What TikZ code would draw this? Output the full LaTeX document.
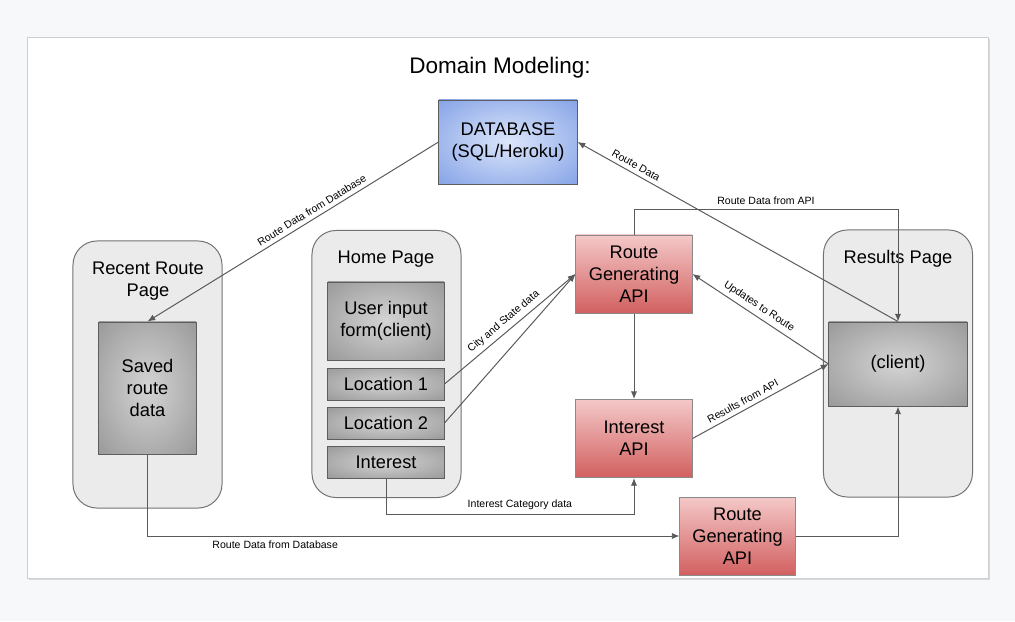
\documentclass[tikz,border=0pt]{standalone}
\usepackage{fontspec}
\setmainfont{Liberation Sans}
\usetikzlibrary{arrows.meta}
\definecolor{bgcol}{HTML}{F7F8FA}
\definecolor{shadowcol}{HTML}{D9DADC}
\definecolor{pageline}{HTML}{CFCFCF}
\definecolor{linecol}{HTML}{5A5A5A}
\definecolor{pagefill}{HTML}{EBEBEB}
\definecolor{pagedraw}{HTML}{727272}
\definecolor{grayin}{HTML}{D4D4D4}
\definecolor{grayout}{HTML}{828282}
\definecolor{grayline}{HTML}{5E5E5E}
\definecolor{redtop}{HTML}{F4C8C8}
\definecolor{redbot}{HTML}{D26060}
\definecolor{redline}{HTML}{8A8A8A}
\definecolor{dbin}{HTML}{DCE6FB}
\definecolor{dbout}{HTML}{6288DE}
\pgfdeclareradialshading{graysoft}{\pgfpoint{0bp}{0bp}}{color(0bp)=(grayin); color(50bp)=(grayout)}
\pgfdeclareradialshading{dbsoft}{\pgfpoint{0bp}{0bp}}{color(0bp)=(dbin); color(50bp)=(dbout)}
\def\boxfont{\fontsize{13}{15.8}\selectfont}
\def\lblfont{\fontsize{7.5}{9}\selectfont}
\tikzset{
  pagebox/.style={draw=pagedraw,fill=pagefill,line width=0.7pt,rounded corners=0.6cm,
    minimum width=3.725cm,minimum height=6.675cm},
  gbox/.style={draw=grayline,line width=0.7pt,shade,shading=graysoft,
    align=center,font=\boxfont,inner sep=0pt},
  rbox/.style={draw=redline,line width=0.7pt,top color=redtop,bottom color=redbot,
    align=center,font=\boxfont,inner sep=0pt,minimum width=2.9cm,minimum height=1.95cm},
  ttl/.style={align=center,font=\boxfont},
  lbl/.style={font=\lblfont,inner sep=3pt},
  arr/.style={draw=linecol,line width=0.7pt,-{Latex[length=5.5pt,width=4.5pt]}}
}

\begin{document}
\begin{tikzpicture}[x=0.025cm,y=-0.025cm]
  \fill[bgcol] (0,0) rectangle (1015,621);
  \fill[shadowcol] (29,39) rectangle (990,580);
  \filldraw[fill=white,draw=pageline,line width=0.5pt] (27,37) rectangle (988,578);
\node (title) at (500,68) {\fontsize{16}{19}\selectfont Domain Modeling:};
\node[draw=grayline,line width=0.7pt,shade,shading=dbsoft,align=center,font=\boxfont,
  minimum width=3.45cm,minimum height=2.1cm] (db) at (508,142) {DATABASE\\(SQL/Heroku)};
% pages
\node[pagebox] (recent) at (147.5,374.5) {};
\node[pagebox] (home) at (386.5,364) {};
\node[pagebox] (results) at (898,363.5) {};
\node[ttl] (recentT) at (148,281) {Recent Route\\Page};
\node[ttl] (homeT) at (386,259) {Home Page};
\node[ttl] (resultsT) at (898,259) {Results Page};
% boxes
\node[gbox,minimum width=2.425cm,minimum height=3.3cm] (saved) at (147.5,388) {Saved\\route\\data};
\node[gbox,minimum width=2.9cm,minimum height=1.95cm] (form) at (386,321) {User input\\form(client)};
\node[gbox,minimum width=2.9cm,minimum height=0.8cm] (locA) at (386,384) {Location 1};
\node[gbox,minimum width=2.9cm,minimum height=0.8cm] (locB) at (386,423) {Location 2};
\node[gbox,minimum width=2.9cm,minimum height=0.8cm] (interest) at (386,462) {Interest};
\node[gbox,minimum width=3.45cm,minimum height=2.1cm] (client) at (898,364) {(client)};
\node[rbox] (rgtop) at (634,274) {Route\\Generating\\API};
\node[rbox] (intapi) at (634,438.5) {Interest\\API};
\node[rbox,minimum width=2.875cm] (rgbot) at (737.5,536) {Route\\Generating\\API};
% connectors
\draw[arr] (db.west) -- node[lbl,sloped,above,pos=0.42] {Route Data from Database} (saved.north);
\draw[arr] (client.north) -- node[lbl,sloped,above,pos=0.83] {Route Data} (db.east);
\draw[arr] (rgtop.north) -- ++(0,-25) -| node[lbl,above,pos=0.25] {Route Data from API} (client.north);
\draw[arr] (locA.east) -- node[lbl,sloped,above] {City and State data} (rgtop.west);
\draw[arr] (locB.east) -- (rgtop.west);
\draw[arr] (client.west) -- node[lbl,sloped,above,pos=0.55] {Updates to Route} (rgtop.east);
\draw[arr] (intapi.east) -- node[lbl,sloped,above,pos=0.4] {Results from API} (client.west);
\draw[arr] (rgtop.south) -- (intapi.north);
\draw[arr] (interest.south) -- ++(0,36) -| node[lbl,above,pos=0.27] {Interest Category data} (intapi.south);
\draw[arr] (saved.south) |- node[lbl,below,pos=0.62] {Route Data from Database} (rgbot.west);
\draw[arr] (rgbot.east) -| (client.south);
\end{tikzpicture}
\end{document}
